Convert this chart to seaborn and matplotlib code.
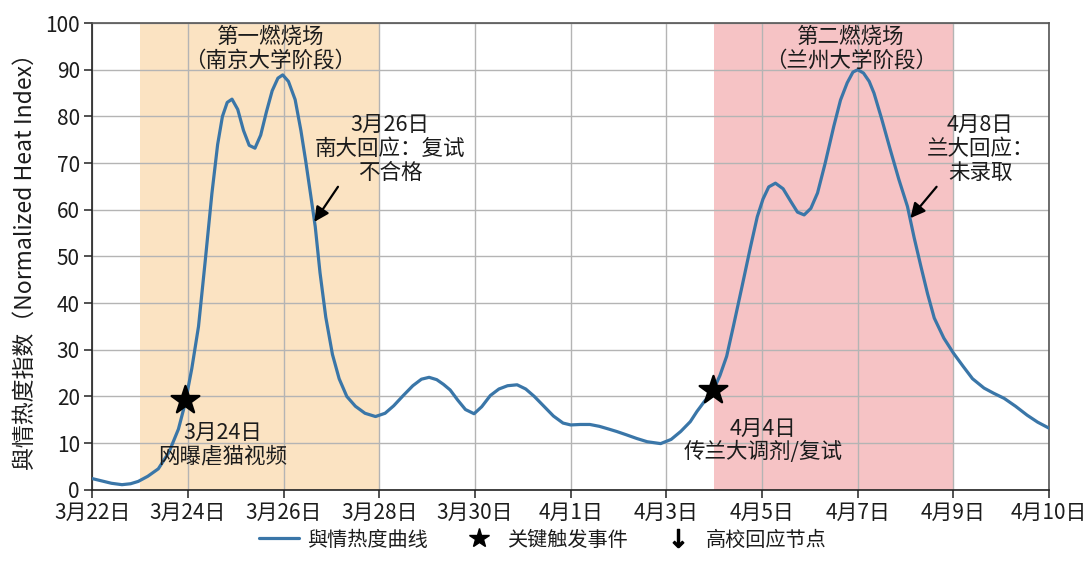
import numpy as np
import pandas as pd
import matplotlib
matplotlib.use("Agg")
import matplotlib.pyplot as plt
import seaborn as sns
from matplotlib.lines import Line2D

# positions on the tick axis (0 = 3月22日 ... 10 = 4月10日) and heat readings
x_pos = [0.00, 0.10, 0.20, 0.31, 0.40, 0.48, 0.58, 0.69, 0.80, 0.90, 0.97, 1.04, 1.11, 1.18,
         1.25, 1.31, 1.36, 1.41, 1.46, 1.52, 1.58, 1.64, 1.70, 1.76, 1.82, 1.88, 1.94, 1.99,
         2.05, 2.12, 2.18, 2.23, 2.28, 2.33, 2.38, 2.44, 2.51, 2.58, 2.66, 2.75, 2.85, 2.96,
         3.06, 3.15, 3.25, 3.35, 3.44, 3.52, 3.60, 3.67, 3.74, 3.82, 3.90, 3.99, 4.07, 4.16,
         4.25, 4.34, 4.44, 4.53, 4.62, 4.72, 4.82, 4.92, 5.00, 5.10, 5.20, 5.30, 5.40, 5.48,
         5.58, 5.69, 5.80, 5.94, 6.05, 6.15, 6.25, 6.32, 6.40, 6.49, 6.56, 6.63, 6.70, 6.79,
         6.88, 6.95, 7.01, 7.07, 7.14, 7.22, 7.30, 7.37, 7.44, 7.51, 7.58, 7.66, 7.75, 7.82,
         7.89, 7.95, 8.00, 8.06, 8.12, 8.17, 8.25, 8.34, 8.43, 8.52, 8.59, 8.66, 8.73, 8.80,
         8.90, 9.00, 9.10, 9.20, 9.32, 9.42, 9.53, 9.65, 9.77, 9.88, 10.00]
heat = [2.4, 1.9, 1.4, 1.1, 1.3, 1.8, 2.9, 4.5, 8.0, 13.0, 18.5, 26.0, 35.0, 49.0,
        63.5, 74.0, 80.0, 83.0, 83.7, 81.5, 77.0, 73.8, 73.2, 76.0, 81.0, 85.5, 88.2, 88.9,
        87.5, 83.6, 77.0, 70.5, 63.5, 56.4, 46.5, 37.0, 29.0, 23.8, 20.0, 17.9, 16.4, 15.7,
        16.4, 18.0, 20.2, 22.3, 23.7, 24.1, 23.6, 22.6, 21.4, 19.2, 17.2, 16.3, 17.8, 20.2,
        21.6, 22.3, 22.5, 21.6, 20.0, 17.9, 15.8, 14.3, 13.9, 14.0, 14.0, 13.6, 13.0, 12.5,
        11.8, 11.0, 10.3, 9.9, 10.8, 12.5, 14.6, 16.8, 19.0, 21.3, 24.5, 28.6, 35.0, 43.5,
        52.1, 58.5, 62.3, 64.9, 65.7, 64.5, 61.8, 59.5, 58.9, 60.3, 63.6, 70.0, 77.9, 83.5,
        87.2, 89.5, 90.0, 89.3, 87.5, 85.0, 79.5, 72.9, 66.5, 60.7, 54.0, 47.9, 42.0, 36.8,
        32.5, 29.3, 26.5, 23.8, 21.8, 20.7, 19.6, 17.9, 16.0, 14.5, 13.2]

tick_labels = ["3月22日", "3月24日", "3月26日", "3月28日", "3月30日", "4月1日",
               "4月3日", "4月5日", "4月7日", "4月9日", "4月10日"]

event_x = [0.97, 6.49]
event_y = [19.3, 21.3]
event_labels = ["3月24日\n网曝虐猫视频", "4月4日\n传兰大调剂/复试"]

phase_spans = [(0.5, 3.0), (6.5, 9.0)]
phase_labels = ["第一燃烧场\n（南京大学阶段）", "第二燃烧场\n（兰州大学阶段）"]

response_labels = ["3月26日\n南大回应：复试\n不合格", "4月8日\n兰大回应：\n未录取"]

sns.set_theme(style="whitegrid")
plt.rcParams['font.family'] = ['Noto Sans CJK SC', 'DejaVu Sans']
plt.rcParams['axes.unicode_minus'] = False

TXT = "#1c1c1c"
FS = 15.5

fig, ax = plt.subplots(figsize=(10.86, 5.63), dpi=100)
fig.subplots_adjust(left=0.085, right=0.966, bottom=0.13, top=0.959)

# phase bands
ax.axvspan(*phase_spans[0], color="#fbe3c2", zorder=0.2, lw=0)
ax.axvspan(*phase_spans[1], color="#f6c3c5", zorder=0.2, lw=0)

df = pd.DataFrame({"x": x_pos, "heat": heat})
sns.lineplot(data=df, x="x", y="heat", ax=ax, color="#3a76a8", linewidth=2.3, zorder=3)
sns.scatterplot(x=event_x, y=event_y, ax=ax, marker="*", s=440, color="black",
                edgecolor="black", zorder=4)

ax.set_xlim(0, 10)
ax.set_ylim(0, 100)
ax.set_xticks(range(11))
ax.set_xticklabels(tick_labels, fontsize=15, color=TXT)
ax.set_yticks(range(0, 101, 10))
ax.tick_params(axis="y", labelsize=15, labelcolor=TXT)
ax.tick_params(axis="both", length=6, width=1.2, color="#333333", direction="out",
               bottom=True, left=True, pad=3)
ax.grid(True, color="#b4b4b4", linewidth=1.0)
ax.set_axisbelow(True)
for s in ax.spines.values():
    s.set_color("#555555")
    s.set_linewidth(1.2)
ax.spines["left"].set_color("#222222")
ax.spines["bottom"].set_color("#222222")

ax.set_xlabel("")
ax.set_ylabel("與情热度指数（Normalized Heat Index）", fontsize=16.5, labelpad=6, color=TXT)

# phase titles
ax.text(1.86, 99.5, phase_labels[0], ha="center", va="top", fontsize=FS,
        color=TXT, linespacing=1.1)
ax.text(7.93, 99.5, phase_labels[1], ha="center", va="top", fontsize=FS,
        color=TXT, linespacing=1.1)

# trigger event labels
ax.text(1.36, 14.5, event_labels[0], ha="center", va="top", fontsize=FS,
        color=TXT, linespacing=1.1)
ax.text(7.01, 15.5, event_labels[1], ha="center", va="top", fontsize=FS,
        color=TXT, linespacing=1.1)

# university responses
ax.annotate(response_labels[0], xy=(2.32, 57.4), xytext=(3.11, 80.5),
            ha="center", va="top", fontsize=FS, color=TXT, linespacing=1.1,
            arrowprops=dict(arrowstyle="-|>", color="black", lw=1.6, mutation_scale=22,
                            shrinkA=0, shrinkB=0, relpos=(0.17, 0.0)))
ax.annotate(response_labels[1], xy=(8.55, 58.2), xytext=(9.28, 80.5),
            ha="center", va="top", fontsize=FS, color=TXT, linespacing=1.1,
            arrowprops=dict(arrowstyle="-|>", color="black", lw=1.6, mutation_scale=22,
                            shrinkA=0, shrinkB=0, relpos=(0.12, 0.0)))

handles = [Line2D([], [], color="#3a76a8", lw=2.3),
           Line2D([], [], color="black", marker="*", ls="none", markersize=15),
           Line2D([], [], color="black", marker=r"$\downarrow$", ls="none", markersize=13)]
labels = ["與情热度曲线", "关键触发事件", "高校回应节点"]
fig.legend(handles, labels, loc="lower center", bbox_to_anchor=(0.5, -0.01), ncol=3,
           frameon=False, fontsize=14.5, handlelength=2.0, handletextpad=0.4,
           columnspacing=1.5, labelcolor=TXT)

plt.savefig("out.png", dpi=100)
